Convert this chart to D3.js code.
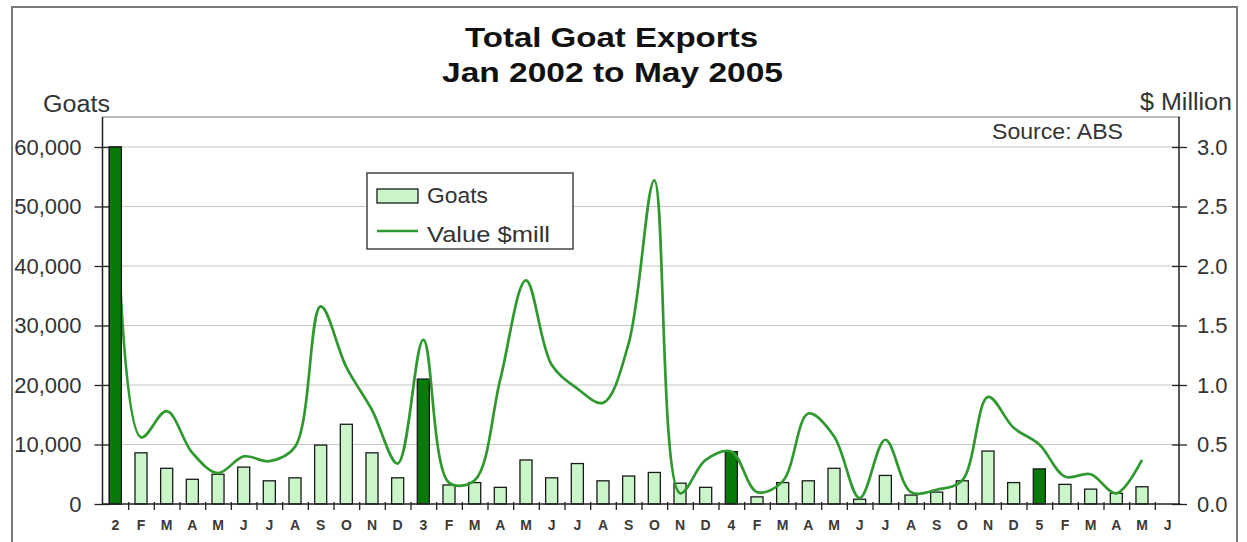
<!DOCTYPE html>
<html>
<head>
<meta charset="utf-8">
<script src="https://cdn.jsdelivr.net/npm/d3@7/dist/d3.min.js"></script>
<style>
  html, body { margin: 0; padding: 0; background: #fff; }
  svg { display: block; font-family: "Liberation Sans", Arial, sans-serif; }
</style>
</head>
<body>
<svg id="chart" width="1247" height="542"></svg>
<script>
// Month labels: the year digit marks each January
const months = ["2","F","M","A","M","J","J","A","S","O","N","D",
                "3","F","M","A","M","J","J","A","S","O","N","D",
                "4","F","M","A","M","J","J","A","S","O","N","D",
                "5","F","M","A","M","J"];

// Number of goats exported each month (left axis)
const goats = [60000, 8600, 6000, 4150, 5000, 6200, 3900, 4400, 9900, 13400, 8600, 4400,
               21000, 3200, 3600, 2800, 7400, 4400, 6800, 3900, 4700, 5300, 3500, 2800,
               8800, 1200, 3600, 3900, 6000, 800, 4800, 1500, 2000, 3900, 8900, 3600,
               5900, 3300, 2500, 1800, 2900, null];

// Export value in $ million (right axis)
const valueMill = [2.9, 0.56, 0.78, 0.43, 0.26, 0.40, 0.36, 0.48, 1.66, 1.15, 0.79, 0.34,
                   1.38, 0.18, 0.20, 1.05, 1.88, 1.17, 0.97, 0.85, 1.35, 2.72, 0.09, 0.37,
                   0.44, 0.10, 0.19, 0.76, 0.57, 0.05, 0.54, 0.10, 0.12, 0.20, 0.90, 0.64,
                   0.50, 0.23, 0.25, 0.09, 0.37, null];

const goatTicks = [0, 10000, 20000, 30000, 40000, 50000, 60000];
const valueTicks = [0, 0.5, 1.0, 1.5, 2.0, 2.5, 3.0];

const svg = d3.select("#chart");

const plotLeft = 102.5, plotRight = 1180.5, plotTop = 117;
const yLeft = d3.scaleLinear().domain([0, 60000]).range([504, 147]);
const yRight = d3.scaleLinear().domain([0, 3]).range([504, 147]);
const x = d3.scaleBand().domain(d3.range(months.length))
  .range([plotLeft, plotRight]).paddingInner(0.53).paddingOuter(0.265);
const xEdge = d3.scaleLinear().domain([0, months.length]).range([plotLeft, plotRight]);
const cx = i => x(i) + x.bandwidth() / 2;

// Outer frame
svg.append("rect")
  .attr("x", 12).attr("y", 7).attr("width", 1225).attr("height", 545)
  .attr("fill", "#fff").attr("stroke", "#7a7a7a").attr("stroke-width", 2);

// Horizontal gridlines
svg.append("g").selectAll("line").data(goatTicks.slice(1)).join("line")
  .attr("x1", plotLeft).attr("x2", plotRight)
  .attr("y1", d => yLeft(d)).attr("y2", d => yLeft(d))
  .attr("stroke", "#c6c6c6").attr("stroke-width", 1.2);

// Plot area top edge
svg.append("line")
  .attr("x1", plotLeft).attr("x2", plotRight).attr("y1", plotTop).attr("y2", plotTop)
  .attr("stroke", "#a0a0a0").attr("stroke-width", 1.5);

// Value line, smoothed
const line = d3.line()
  .defined(d => d != null)
  .x((d, i) => cx(i))
  .y(d => yRight(d))
  .curve(d3.curveCatmullRom.alpha(0.5));

// Bars (January bars are shaded dark)
svg.append("g").selectAll("rect")
  .data(goats.map((v, i) => ({ v, i })).filter(d => d.v != null))
  .join("rect")
  .attr("x", d => x(d.i))
  .attr("width", x.bandwidth())
  .attr("y", d => yLeft(d.v))
  .attr("height", d => yLeft(0) - yLeft(d.v))
  .attr("fill", d => /\d/.test(months[d.i]) ? "#077a07" : "#c9f5c9")
  .attr("stroke", "#1a1a1a").attr("stroke-width", 1.3);

svg.append("path")
  .datum(valueMill)
  .attr("d", line)
  .attr("fill", "none")
  .attr("stroke", "#2f982f")
  .attr("stroke-width", 2.7)
  .attr("stroke-linejoin", "round");

// Re-draw the first January bar over the line, as it rises above every other mark
svg.append("rect")
  .attr("x", x(0)).attr("width", x.bandwidth())
  .attr("y", yLeft(goats[0])).attr("height", yLeft(0) - yLeft(goats[0]))
  .attr("fill", "#077a07").attr("stroke", "#1a1a1a").attr("stroke-width", 1.3);

// Left axis
const leftAxis = svg.append("g").attr("transform", `translate(${plotLeft},0)`)
  .call(d3.axisLeft(yLeft).tickValues(goatTicks).tickFormat(d3.format(",")).tickSize(8).tickPadding(13));
leftAxis.select(".domain").remove();
leftAxis.selectAll(".tick line").attr("x1", -8).attr("x2", 7).attr("stroke", "#222").attr("stroke-width", 1.3);
leftAxis.selectAll(".tick text").attr("font-size", 22).attr("fill", "#333")
  .attr("font-family", "Liberation Sans, Arial, sans-serif");
svg.append("line").attr("x1", plotLeft).attr("x2", plotLeft).attr("y1", plotTop).attr("y2", 504)
  .attr("stroke", "#222").attr("stroke-width", 1.5);

// Right axis
const rightAxis = svg.append("g").attr("transform", `translate(${plotRight - 1.5},0)`)
  .call(d3.axisRight(yRight).tickValues(valueTicks).tickFormat(d3.format(".1f")).tickSize(8).tickPadding(10));
rightAxis.select(".domain").remove();
rightAxis.selectAll(".tick line").attr("x1", -7).attr("x2", 8).attr("stroke", "#222").attr("stroke-width", 1.3);
rightAxis.selectAll(".tick text").attr("font-size", 22).attr("fill", "#333")
  .attr("font-family", "Liberation Sans, Arial, sans-serif");
svg.append("line").attr("x1", plotRight - 1.5).attr("x2", plotRight - 1.5).attr("y1", plotTop).attr("y2", 504)
  .attr("stroke", "#222").attr("stroke-width", 1.5);

// Bottom axis: baseline and month separators
svg.append("line").attr("x1", plotLeft).attr("x2", plotRight).attr("y1", 504).attr("y2", 504)
  .attr("stroke", "#222").attr("stroke-width", 1.5);
const sepAxis = svg.append("g").attr("transform", "translate(0,504)")
  .call(d3.axisBottom(xEdge).tickValues(d3.range(1, months.length)).tickFormat("").tickSize(6));
sepAxis.select(".domain").remove();
sepAxis.selectAll(".tick line").attr("y1", -2).attr("stroke", "#222").attr("stroke-width", 1.3);

const monthAxis = svg.append("g").attr("transform", "translate(0,504)")
  .call(d3.axisBottom(x).tickFormat(i => months[i]).tickSize(0).tickPadding(16));
monthAxis.select(".domain").remove();
monthAxis.selectAll(".tick text").attr("font-size", 14).attr("font-weight", "bold")
  .attr("fill", "#3a3a3a").attr("font-family", "Liberation Sans, Arial, sans-serif");

// Text helper
function label(txt, px, py, opts) {
  const t = svg.append("text")
    .attr("x", px).attr("y", py)
    .attr("font-size", opts.size)
    .attr("font-weight", opts.weight || "normal")
    .attr("fill", opts.fill || "#333")
    .attr("text-anchor", opts.anchor || "start")
    .text(txt);
  if (opts.len) t.attr("textLength", opts.len).attr("lengthAdjust", "spacingAndGlyphs");
  return t;
}

// Titles
label("Total Goat Exports", 465, 47, { size: 28, weight: "bold", fill: "#111", len: 293 });
label("Jan 2002 to May 2005", 442, 82, { size: 28, weight: "bold", fill: "#111", len: 341 });

// Axis captions and source
label("Goats", 43, 112, { size: 23, len: 67 });
label("$ Million", 1140, 110, { size: 23, len: 92 });
label("Source: ABS", 992, 139, { size: 22, len: 131 });

// Legend
const lg = svg.append("g");
lg.append("rect").attr("x", 367).attr("y", 173).attr("width", 206).attr("height", 76)
  .attr("fill", "#fff").attr("stroke", "#444").attr("stroke-width", 1.5);
lg.append("rect").attr("x", 377).attr("y", 189).attr("width", 41).attr("height", 14)
  .attr("fill", "#c9f5c9").attr("stroke", "#1a1a1a").attr("stroke-width", 1.3);
lg.append("line").attr("x1", 377).attr("x2", 418).attr("y1", 231).attr("y2", 231)
  .attr("stroke", "#2f982f").attr("stroke-width", 2.7);
label("Goats", 427, 203, { size: 22, len: 61 });
label("Value $mill", 427, 242, { size: 22, len: 123 });
</script>
</body>
</html>
